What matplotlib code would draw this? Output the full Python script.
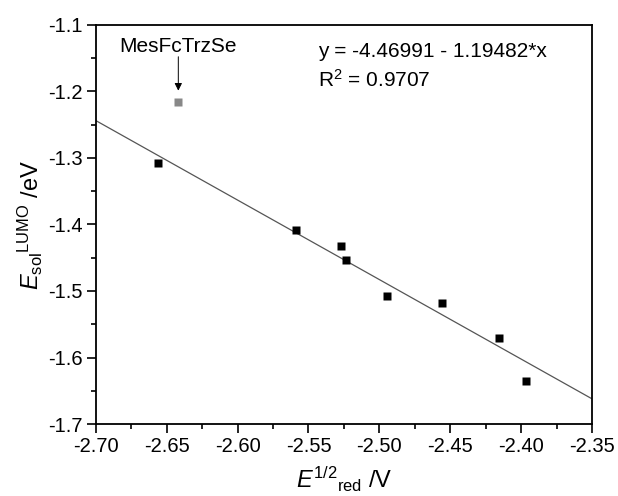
import matplotlib
matplotlib.use("Agg")
import matplotlib.pyplot as plt
import numpy as np
from matplotlib.ticker import MultipleLocator, FormatStrFormatter

plt.rcParams['font.family'] = ['Liberation Sans', 'DejaVu Sans']
plt.rcParams['mathtext.fontset'] = 'custom'
plt.rcParams['mathtext.rm'] = 'Liberation Sans'
plt.rcParams['mathtext.it'] = 'Liberation Sans:italic'

# data
x_vals = [-2.6563, -2.5587, -2.5270, -2.5235, -2.4946, -2.4558, -2.4153, -2.3967]
y_vals = [-1.308, -1.408, -1.433, -1.454, -1.5075, -1.5185, -1.571, -1.635]
outlier_x = [-2.6418]
outlier_y = [-1.216]
outlier_name = "MesFcTrzSe"
fit_intercept = -4.46991
fit_slope = -1.19482
r2 = 0.9707
xlim = (-2.70, -2.35)
ylim = (-1.7, -1.1)

fig = plt.figure(figsize=(6.18, 4.96), dpi=100)
ax = fig.add_axes([0.155, 0.145, 0.803, 0.805])

xl = np.array(xlim)
ax.plot(xl, fit_intercept + fit_slope * xl, color='#555555', lw=0.9)
ax.plot(x_vals, y_vals, 's', color='black', ms=6.2, mec='none')
ax.plot(outlier_x, outlier_y, 's', color='#888888', ms=6.2, mec='none')

ax.text(outlier_x[0], -1.1323, outlier_name, ha='center', va='center', fontsize=15)
ax.annotate("", xy=(outlier_x[0], -1.199), xytext=(outlier_x[0], -1.148),
            arrowprops=dict(arrowstyle='-|>', color='black', lw=0.7,
                            mutation_scale=11, shrinkA=0, shrinkB=0))

ax.text(0.448, 0.932, f"y = {fit_intercept} - {-fit_slope}*x", transform=ax.transAxes,
        fontsize=15, va='center', ha='left')
ax.text(0.448, 0.862, f"R$^2$ = {r2}", transform=ax.transAxes,
        fontsize=15, va='center', ha='left')

ax.set_xlim(*xlim)
ax.set_ylim(*ylim)
ax.xaxis.set_major_locator(MultipleLocator(0.05))
ax.xaxis.set_minor_locator(MultipleLocator(0.025))
ax.yaxis.set_major_locator(MultipleLocator(0.1))
ax.yaxis.set_minor_locator(MultipleLocator(0.05))
ax.xaxis.set_major_formatter(FormatStrFormatter('%.2f'))
ax.yaxis.set_major_formatter(FormatStrFormatter('%.1f'))
ax.tick_params(which='both', direction='out', labelsize=14.5, width=1.2)
ax.tick_params(which='major', length=6.5, pad=3)
ax.tick_params(which='minor', length=3.6)
for s in ax.spines.values():
    s.set_linewidth(1.3)

ax.set_xlabel(r"$\mathit{E}^{1/2}{}_{\mathrm{red}}$ /V", fontsize=17, labelpad=6)
ax.set_ylabel(r"$\mathit{E}_{\mathrm{sol}}{}^{\mathrm{LUMO}}$ /eV", fontsize=17, labelpad=2)

fig.savefig("out.png", dpi=100)
